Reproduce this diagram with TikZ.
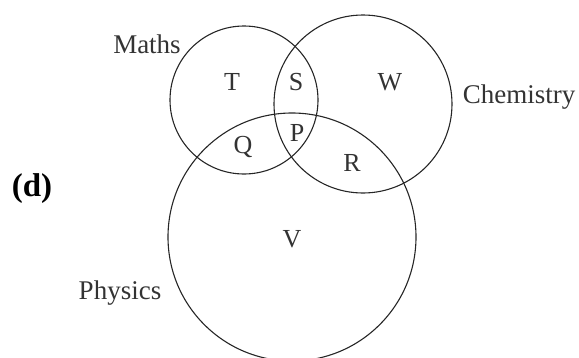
\documentclass[tikz,border=0pt]{standalone}
\usepackage{fontspec}
\setmainfont{Liberation Serif}
\begin{document}
\begin{tikzpicture}[x=1pt,y=-1pt,
  setc/.style={draw=black!85,line width=1.1pt,circle,inner sep=0pt},
  lab/.style={text=black!80,font=\fontsize{27}{30}\selectfont},
  reg/.style={text=black!80,font=\fontsize{26}{29}\selectfont}]
\useasboundingbox (0,0) rectangle (579,357);
\clip (0,0) rectangle (579,357);
\node[setc,minimum size=148pt] (maths) at (244,100) {};
\node[setc,minimum size=178pt] (chem) at (363,104) {};
\node[setc,minimum size=248pt] (phys) at (292,237) {};
\node[lab] (lm) at (147,44) {Maths};
\node[lab] (lc) at (519,97) {Chemistry};
\node[lab] (lp) at (120,293) {Physics};
\node[reg] (t) at (232,82) {T};
\node[reg] (s) at (296,82) {S};
\node[reg] (w) at (390,82) {W};
\node[reg] (p) at (297,133) {P};
\node[reg] (q) at (243,147) {Q};
\node[reg] (r) at (352,163) {R};
\node[reg] (v) at (292,239) {V};
\node[font=\fontsize{33}{36}\selectfont\bfseries] (d) at (32,189) {(d)};
\end{tikzpicture}
\end{document}
